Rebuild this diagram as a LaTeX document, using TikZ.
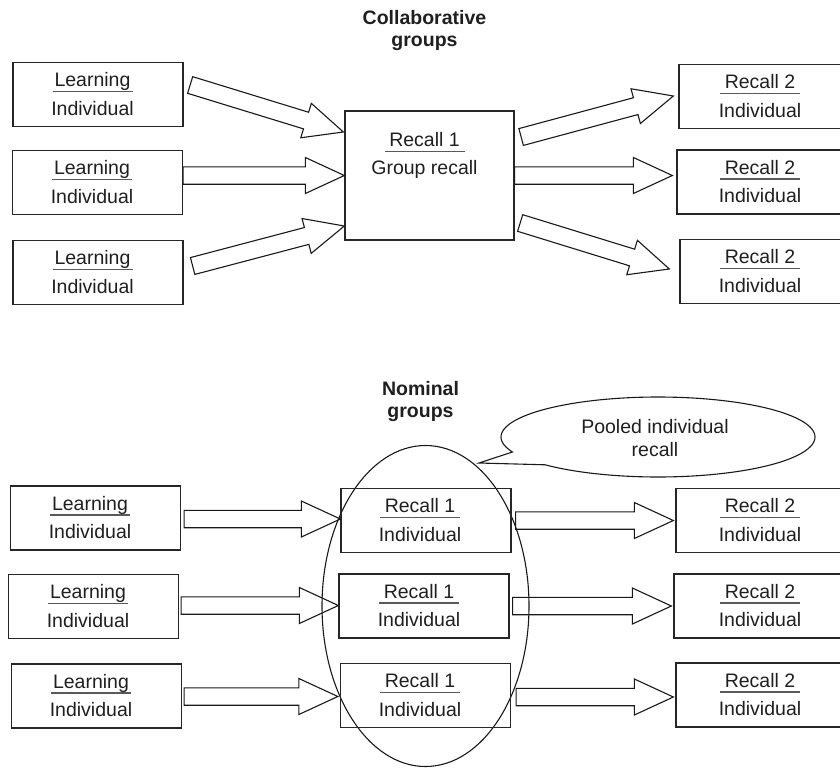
\documentclass[tikz,border=0pt]{standalone}
\usepackage{fontspec}
\setmainfont{Liberation Sans}
\usetikzlibrary{calc}
\tikzset{
  box/.style={draw=black!85, line width=1.3pt, minimum width=170pt, minimum height=64pt, inner sep=0pt},
  gbox/.style={box, minimum width=169pt, minimum height=129pt},
  lbl/.style={font=\fontsize{19.5}{23}\selectfont, text=black!88, inner sep=0pt},
  ttl/.style={font=\fontsize{19.5}{23}\selectfont\bfseries, text=black!88, inner sep=0pt},
  divider/.style={draw=black!65, line width=1.1pt},
  barrow/.style={draw=black!90, line width=1.1pt, line join=miter},
  outline/.style={draw=black!90, line width=1.1pt},
}
% text pair with a divider, around a reference coordinate
\newcommand{\boxlabel}[4]{%
  \node[lbl, anchor=base] (#2t) at ($(#1)+(0,-8)$) {#3};
  \draw[divider] ($(#1)+(-40,-3)$) -- ($(#1)+(40,-3)$);
  \node[lbl, anchor=base] (#2b) at ($(#1)+(0,20.5)$) {#4};}
% box: name, x, y, text x-offset, top text, bottom text
\newcommand{\tbox}[6]{%
  \node[box] (#1) at (#2,#3) {};
  \coordinate (#1r) at ($(#1)+(#4,0)$);
  \boxlabel{#1r}{#1}{#5}{#6}}
% block arrow from coordinate #1 to coordinate #2
\newcommand{\blockarrow}[2]{%
  \draw[barrow] let \p1=($(#2)-(#1)$), \n1={atan2(\y1,\x1)}, \n2={veclen(\x1,\y1)}, \n3={veclen(\x1,\y1)-39} in
    ([shift={(#1)},rotate=\n1]0,8.7) -- ([shift={(#1)},rotate=\n1]\n3,8.7) --
    ([shift={(#1)},rotate=\n1]\n3,18) -- ([shift={(#1)},rotate=\n1]\n2,0) --
    ([shift={(#1)},rotate=\n1]\n3,-18) -- ([shift={(#1)},rotate=\n1]\n3,-8.7) --
    ([shift={(#1)},rotate=\n1]0,-8.7) -- cycle;}
\begin{document}
\begin{tikzpicture}[x=1pt, y=-1pt]
\useasboundingbox (0,0) rectangle (840,768);
\clip (0,0) rectangle (840,768);

% ---------- Collaborative groups ----------
\node[ttl, anchor=base] (ttlA1) at (424.5,25) {Collaborative};
\node[ttl, anchor=base] (ttlA2) at (424.5,47) {groups};

\tbox{L1}{98}{94.5}{-5.5}{Learning}{Individual}
\tbox{L2}{97.5}{182.5}{-5.5}{Learning}{Individual}
\tbox{L3}{98}{272.5}{-5.5}{Learning}{Individual}

\node[gbox] (G) at (429.5,175.5) {};
\coordinate (Gr) at ($(G.north)+(-5,44)$);
\boxlabel{Gr}{G}{Recall 1}{Group recall}

\tbox{Ra}{764}{96.5}{-4}{Recall 2}{Individual}
\tbox{Rb}{762}{182}{-2}{Recall 2}{Individual}
\tbox{Rc}{765}{271.5}{-5}{Recall 2}{Individual}

\coordinate (a1s) at ($(L1.east)+(6.5,-9.5)$);
\coordinate (a1e) at ($(G.west)+(-1,-43.5)$);
\coordinate (a2s) at (L2.east |- G.west);
\coordinate (a2e) at (G.west);
\coordinate (a3s) at ($(L3.east)+(9,-6.5)$);
\coordinate (a3e) at ($(G.west)+(0,50.5)$);
\coordinate (b1s) at ($(G.east)+(6.5,-38.5)$);
\coordinate (b1e) at ($(Ra.west)+(-5,-0.5)$);
\coordinate (b2s) at (G.east);
\coordinate (b2e) at ($(Rb.west)+(-4,-6.5)$);
\coordinate (b3s) at ($(G.east)+(5.5,47.5)$);
\coordinate (b3e) at ($(Rc.west)+(-10,-2.5)$);
\blockarrow{a1s}{a1e}
\blockarrow{a2s}{a2e}
\blockarrow{a3s}{a3e}
\blockarrow{b1s}{b1e}
\blockarrow{b2s}{b2e}
\blockarrow{b3s}{b3e}

% ---------- Nominal groups ----------
\node[ttl, anchor=base] (ttlB1) at (420.5,395) {Nominal};
\node[ttl, anchor=base] (ttlB2) at (420.5,417) {groups};

\draw[outline] plot[domain=158:496, samples=140] ({658+157*cos(\x)},{437+40*sin(\x)}) -- (479,463) -- cycle;
\node[lbl, anchor=base] (pool1) at (655,433) {Pooled individual};
\node[lbl, anchor=base] (pool2) at (655,456) {recall};

\draw[outline] (425.5,606) ellipse [x radius=103.5pt, y radius=160.5pt];

\tbox{BL1}{95.5}{518}{-5.5}{Learning}{Individual}
\tbox{BL2}{93.5}{606.5}{-5.5}{Learning}{Individual}
\tbox{BL3}{96.5}{696}{-5.5}{Learning}{Individual}

\tbox{B1a}{426}{520.5}{-6}{Recall 1}{Individual}
\tbox{B1b}{424}{606}{-5}{Recall 1}{Individual}
\tbox{B1c}{425.5}{695.5}{-5.5}{Recall 1}{Individual}

\tbox{B2a}{761}{520.5}{-1}{Recall 2}{Individual}
\tbox{B2b}{759}{606}{1}{Recall 2}{Individual}
\tbox{B2c}{761}{695}{-1}{Recall 2}{Individual}

\coordinate (c1s) at ($(BL1.east)+(3,1)$);
\coordinate (c1e) at ($(B1a.west)+(0,-1.5)$);
\coordinate (c2s) at ($(BL2.east)+(2,-1)$);
\coordinate (c2e) at ($(B1b.west)+(0,-0.5)$);
\coordinate (c3s) at ($(BL3.east)+(2,0.5)$);
\coordinate (c3e) at ($(B1c.west)+(-2,1)$);
\coordinate (d1s) at ($(B1a.east)+(4,0)$);
\coordinate (d1e) at ($(B2a.west)+(-2,0)$);
\coordinate (d2s) at ($(B1b.east)+(3,0)$);
\coordinate (d2e) at ($(B2b.west)+(-2,0)$);
\coordinate (d3s) at ($(B1c.east)+(5,1.5)$);
\coordinate (d3e) at ($(B2c.west)+(-2,2)$);
\blockarrow{c1s}{c1e}
\blockarrow{c2s}{c2e}
\blockarrow{c3s}{c3e}
\blockarrow{d1s}{d1e}
\blockarrow{d2s}{d2e}
\blockarrow{d3s}{d3e}
\end{tikzpicture}
\end{document}
